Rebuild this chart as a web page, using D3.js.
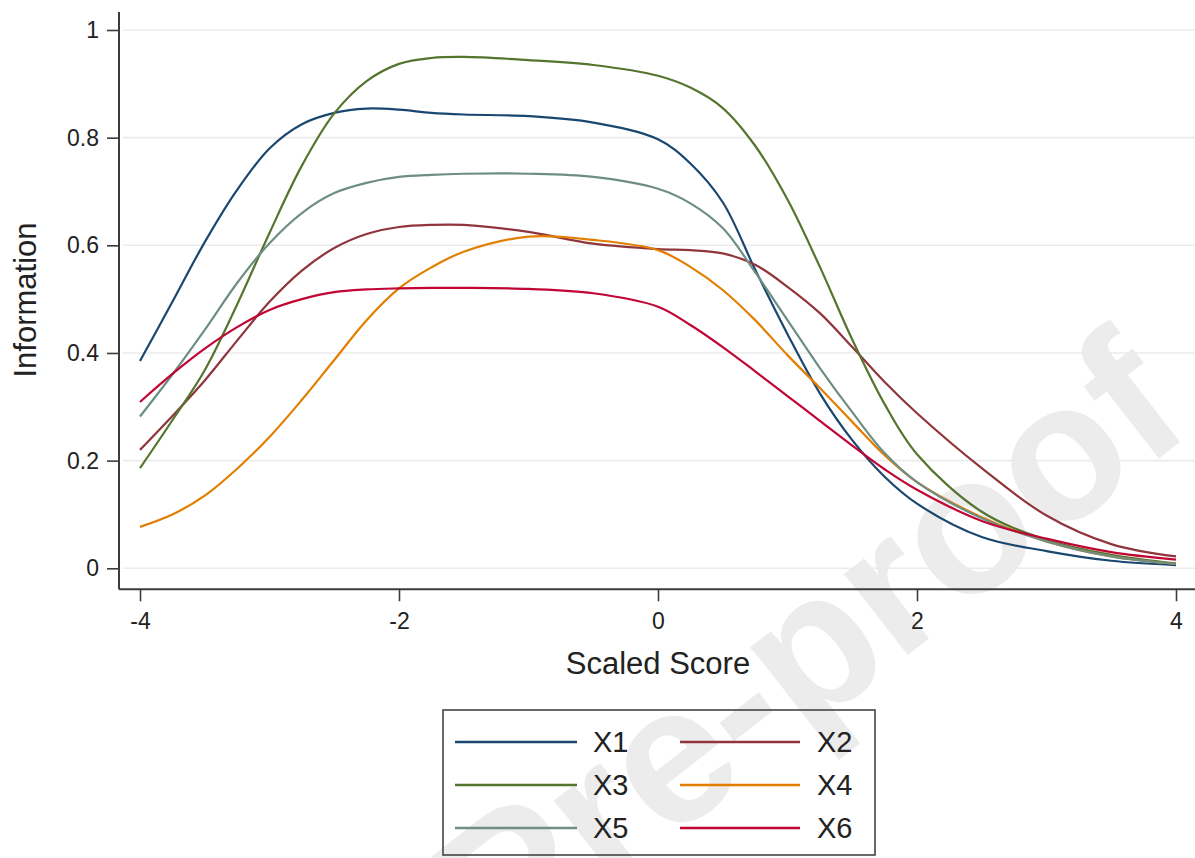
<!DOCTYPE html>
<html>
<head>
<meta charset="utf-8">
<script src="https://cdn.jsdelivr.net/npm/d3@7"></script>
<style>
  html, body { margin: 0; padding: 0; background: #ffffff; }
  svg { display: block; font-family: "Liberation Sans", Arial, sans-serif; }
</style>
</head>
<body>
<svg id="chart" width="1195" height="858"></svg>
<script>
// ---- data ----
const scores = [-4, -3.75, -3.5, -3.25, -3, -2.75, -2.5, -2.25, -2, -1.75, -1.5, -1, -0.5, 0, 0.25, 0.5, 0.75, 1, 1.25, 1.5, 1.75, 2, 2.5, 3, 3.5, 4];
const seriesNames = ["X1", "X2", "X3", "X4", "X5", "X6"];
const X1 = [0.385, 0.495, 0.606, 0.703, 0.780, 0.825, 0.846, 0.854, 0.852, 0.846, 0.843, 0.840, 0.828, 0.797, 0.752, 0.680, 0.555, 0.435, 0.325, 0.238, 0.170, 0.120, 0.058, 0.032, 0.014, 0.006];
const X2 = [0.220, 0.283, 0.349, 0.423, 0.495, 0.553, 0.595, 0.621, 0.634, 0.638, 0.638, 0.625, 0.603, 0.593, 0.591, 0.585, 0.564, 0.523, 0.474, 0.411, 0.346, 0.288, 0.186, 0.098, 0.045, 0.022];
const X3 = [0.186, 0.275, 0.368, 0.490, 0.623, 0.748, 0.845, 0.905, 0.937, 0.948, 0.950, 0.944, 0.935, 0.915, 0.893, 0.855, 0.785, 0.685, 0.560, 0.425, 0.305, 0.212, 0.105, 0.053, 0.025, 0.009];
const X4 = [0.077, 0.100, 0.135, 0.185, 0.244, 0.313, 0.387, 0.461, 0.520, 0.559, 0.588, 0.616, 0.610, 0.591, 0.560, 0.517, 0.461, 0.396, 0.335, 0.272, 0.210, 0.160, 0.095, 0.050, 0.022, 0.008];
const X5 = [0.282, 0.360, 0.443, 0.530, 0.604, 0.660, 0.697, 0.716, 0.727, 0.731, 0.733, 0.733, 0.727, 0.705, 0.678, 0.632, 0.550, 0.461, 0.372, 0.290, 0.214, 0.160, 0.093, 0.050, 0.022, 0.008];
const X6 = [0.309, 0.361, 0.408, 0.448, 0.480, 0.500, 0.513, 0.518, 0.520, 0.521, 0.521, 0.519, 0.511, 0.486, 0.452, 0.411, 0.366, 0.320, 0.274, 0.228, 0.184, 0.146, 0.088, 0.055, 0.030, 0.016];
const seriesValues = [X1, X2, X3, X4, X5, X6];
const seriesColors = ["#1a476f", "#90353b", "#55752f", "#e37e00", "#6e8e84", "#c10534"];
const xTicks = [-4, -2, 0, 2, 4];
const yTicks = [0, 0.2, 0.4, 0.6, 0.8, 1];
const xTitle = "Scaled Score";
const yTitle = "Information";
const watermark = "Pre-proof";

// ---- layout ----
const svg = d3.select("#chart");
const x = d3.scaleLinear().domain([-4, 4]).range([140, 1176]);
const y = d3.scaleLinear().domain([0, 1]).range([568.3, 30]);
const axisColor = "#3c3c3c";
const fontFam = "Liberation Sans, Arial, sans-serif";

// watermark (behind)
svg.append("text")
  .attr("x", 0).attr("y", 0)
  .attr("transform", "translate(850,700) rotate(-38)")
  .attr("text-anchor", "middle")
  .attr("font-size", 195)
  .attr("font-weight", "bold")
  .attr("fill", "#ececec")
  .text(watermark);

// gridlines
svg.append("g").selectAll("line").data(yTicks).join("line")
  .attr("x1", 123).attr("x2", 1195)
  .attr("y1", d => y(d)).attr("y2", d => y(d))
  .attr("stroke", "#ebebeb").attr("stroke-width", 1.6);

// y axis
const yAxis = svg.append("g").attr("transform", "translate(119,0)")
  .call(d3.axisLeft(y).tickValues(yTicks).tickSize(12).tickPadding(8)
    .tickFormat(d => String(d)));
yAxis.select(".domain").attr("d", `M0,${12}V${589.3}`).attr("stroke", axisColor).attr("stroke-width", 2);
yAxis.selectAll(".tick line").attr("stroke", axisColor).attr("stroke-width", 1.6);
yAxis.selectAll(".tick text").attr("font-size", 23).attr("fill", "#222").attr("font-family", fontFam);

// x axis
const xAxis = svg.append("g").attr("transform", "translate(0,589.3)")
  .call(d3.axisBottom(x).tickValues(xTicks).tickSize(12).tickPadding(11).tickFormat(d => String(d)));
xAxis.select(".domain").attr("d", `M119,0H1195`).attr("stroke", axisColor).attr("stroke-width", 2);
xAxis.selectAll(".tick line").attr("stroke", axisColor).attr("stroke-width", 1.6);
xAxis.selectAll(".tick text").attr("font-size", 23).attr("fill", "#222").attr("font-family", fontFam);

// axis titles
svg.append("text").attr("x", 658).attr("y", 674)
  .attr("text-anchor", "middle").attr("font-size", 31).attr("fill", "#222").text(xTitle);
svg.append("text").attr("transform", "translate(36,300) rotate(-90)")
  .attr("text-anchor", "middle").attr("font-size", 31).attr("fill", "#222").text(yTitle);

// lines
const line = d3.line().x(d => x(d[0])).y(d => y(d[1])).curve(d3.curveCatmullRom.alpha(0.5));
svg.append("g").selectAll("path").data(seriesValues).join("path")
  .attr("d", vals => line(scores.map((s, i) => [s, vals[i]])))
  .attr("fill", "none")
  .attr("stroke", (d, i) => seriesColors[i])
  .attr("stroke-width", 2.2);

// legend
const lg = svg.append("g");
lg.append("rect").attr("x", 443).attr("y", 710).attr("width", 432).attr("height", 145)
  .attr("fill", "none").attr("stroke", "#444").attr("stroke-width", 1.6);
const rowY = [742, 785, 828];
const colLine = [[455, 577], [680, 800]];
const colText = [593, 817];
seriesNames.forEach((name, i) => {
  const col = i % 2, row = Math.floor(i / 2);
  lg.append("line").attr("x1", colLine[col][0]).attr("x2", colLine[col][1])
    .attr("y1", rowY[row]).attr("y2", rowY[row])
    .attr("stroke", seriesColors[i]).attr("stroke-width", 2.4);
  lg.append("text").attr("x", colText[col]).attr("y", rowY[row] + 10)
    .attr("font-size", 29).attr("fill", "#222").text(name);
});
</script>
</body>
</html>
